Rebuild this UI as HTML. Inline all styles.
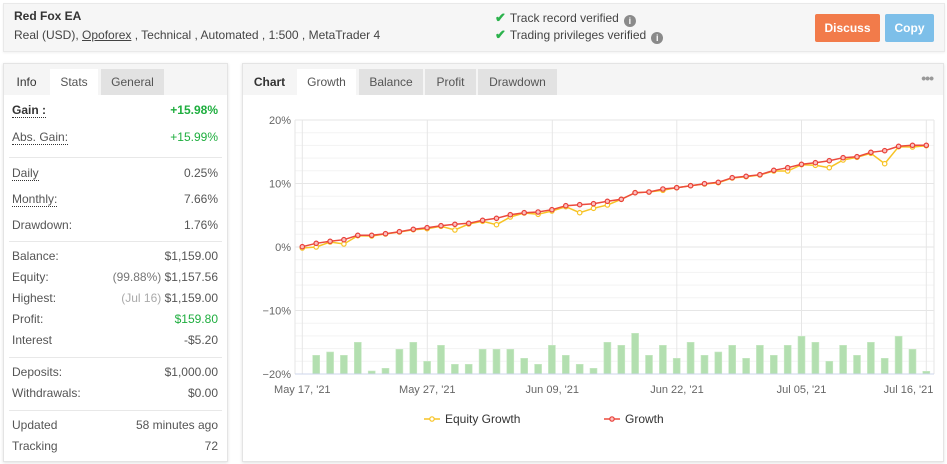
<!DOCTYPE html>
<html><head><meta charset="utf-8"><style>
*{margin:0;padding:0;box-sizing:border-box}
body{width:947px;height:464px;background:#fff;font-family:"Liberation Sans",Arial,sans-serif;font-size:12px;color:#444;position:relative;overflow:hidden}
.abs{position:absolute;white-space:nowrap}
.top{position:absolute;left:3px;top:3px;width:942px;height:49px;background:#f6f6f6;border:1px solid #e9e9e9;box-shadow:0 1px 2px rgba(0,0,0,.06)}
.panel{position:absolute;background:#fff;border:1px solid #e4e4e4;box-shadow:0 1px 3px rgba(0,0,0,.12)}
.hdr{position:absolute;left:0;top:0;right:0;height:31px;background:#f5f5f5}
.tab{position:absolute;top:5px;height:26px;line-height:26px;text-align:center;color:#555;font-size:12px}
.tw{background:#fff}
.tg{background:#e2e2e2}
.row{position:absolute;left:12px;width:206px;height:18px;line-height:18px;color:#555}
.row .v{position:absolute;right:0;top:0}
.dot{border-bottom:1px dotted #333;line-height:14px;display:inline-block}
.sep{position:absolute;left:9px;width:213px;height:1px;background:#e8e8e8}
.g{color:#1fae3f}
.btn{position:absolute;top:14px;height:28px;line-height:28px;color:#fff;font-weight:bold;text-align:center;font-size:12px;border-radius:2px}
.ic{display:inline-block;width:12px;height:12px;border-radius:50%;background:#8a8a8a;color:#fff;font-size:9px;line-height:12px;text-align:center;font-weight:bold;vertical-align:-2px;margin-left:5px}
.ck{color:#2bb24c;font-weight:bold;font-size:13px;margin-right:4px}
</style></head><body>
<div class="top"></div>
<div class="abs" style="left:14px;top:9px;font-weight:bold;color:#333;font-size:12px">Red Fox EA</div>
<div class="abs" style="left:14px;top:28px;color:#444;font-size:12px">Real (USD), <span style="text-decoration:underline">Opoforex</span> , Technical , Automated , 1:500 , MetaTrader 4</div>
<div class="abs" style="left:495px;top:10px;color:#444"><span class="ck">✔</span>Track record verified<span class="ic">i</span></div>
<div class="abs" style="left:495px;top:27px;color:#444"><span class="ck">✔</span>Trading privileges verified<span class="ic">i</span></div>
<div class="btn" style="left:815px;width:65px;background:#f27b4a">Discuss</div>
<div class="btn" style="left:885px;width:49px;background:#7dbfe9">Copy</div>

<!-- left panel -->
<div class="panel" style="left:3px;top:63px;width:225px;height:399px">
 <div class="hdr"></div>
 <div class="tab" style="left:0;width:45px;color:#333">Info</div>
 <div class="tab tw" style="left:46px;width:48px">Stats</div>
 <div class="tab tg" style="left:97px;width:63px">General</div>
</div>
<div class="row" style="top:101px"><span class="dot" style="font-weight:bold;color:#333">Gain :</span><span class="v g" style="font-weight:bold">+15.98%</span></div>
<div class="row" style="top:128px"><span class="dot">Abs. Gain:</span><span class="v g">+15.99%</span></div>
<div class="sep" style="top:157px"></div>
<div class="row" style="top:164px"><span class="dot">Daily</span><span class="v">0.25%</span></div>
<div class="row" style="top:190px"><span class="dot">Monthly:</span><span class="v">7.66%</span></div>
<div class="row" style="top:216px">Drawdown:<span class="v">1.76%</span></div>
<div class="sep" style="top:241px"></div>
<div class="row" style="top:247px">Balance:<span class="v">$1,159.00</span></div>
<div class="row" style="top:268px">Equity:<span class="v"><span style="color:#777">(99.88%)</span> $1,157.56</span></div>
<div class="row" style="top:289px">Highest:<span class="v"><span style="color:#aaa">(Jul 16)</span> $1,159.00</span></div>
<div class="row" style="top:310px">Profit:<span class="v g">$159.80</span></div>
<div class="row" style="top:331px">Interest<span class="v">-$5.20</span></div>
<div class="sep" style="top:357px"></div>
<div class="row" style="top:363px">Deposits:<span class="v">$1,000.00</span></div>
<div class="row" style="top:384px">Withdrawals:<span class="v">$0.00</span></div>
<div class="sep" style="top:410px"></div>
<div class="row" style="top:416px">Updated<span class="v">58 minutes ago</span></div>
<div class="row" style="top:437px">Tracking<span class="v">72</span></div>

<!-- right panel -->
<div class="panel" style="left:242px;top:63px;width:702px;height:399px">
 <div class="hdr"></div>
 <div class="tab" style="left:0;width:53px;color:#333;font-weight:bold">Chart</div>
 <div class="tab tw" style="left:54px;width:59px">Growth</div>
 <div class="tab tg" style="left:116px;width:64px">Balance</div>
 <div class="tab tg" style="left:182px;width:51px">Profit</div>
 <div class="tab tg" style="left:235px;width:79px">Drawdown</div>
 <div class="abs" style="right:10px;top:6px;color:#999;font-size:14px;font-weight:bold;letter-spacing:-1px">•••</div>
</div>

<svg class="abs" style="left:0;top:0" width="947" height="464" xmlns="http://www.w3.org/2000/svg">
<g stroke="#f3f3f3" stroke-width="1">
<line x1="295" x2="934" y1="132.7" y2="132.7"/><line x1="295" x2="934" y1="145.4" y2="145.4"/><line x1="295" x2="934" y1="158.1" y2="158.1"/><line x1="295" x2="934" y1="170.8" y2="170.8"/>
<line x1="295" x2="934" y1="196.2" y2="196.2"/><line x1="295" x2="934" y1="208.9" y2="208.9"/><line x1="295" x2="934" y1="221.6" y2="221.6"/><line x1="295" x2="934" y1="234.3" y2="234.3"/>
<line x1="295" x2="934" y1="259.7" y2="259.7"/><line x1="295" x2="934" y1="272.4" y2="272.4"/><line x1="295" x2="934" y1="285.1" y2="285.1"/><line x1="295" x2="934" y1="297.8" y2="297.8"/>
<line x1="295" x2="934" y1="323.2" y2="323.2"/><line x1="295" x2="934" y1="335.9" y2="335.9"/><line x1="295" x2="934" y1="348.6" y2="348.6"/><line x1="295" x2="934" y1="361.3" y2="361.3"/>
</g>
<g stroke="#e6e6e6" stroke-width="1">
<line x1="295" x2="934" y1="120" y2="120"/><line x1="295" x2="934" y1="183.5" y2="183.5"/><line x1="295" x2="934" y1="247" y2="247"/><line x1="295" x2="934" y1="310.5" y2="310.5"/>
<line x1="295" x2="295" y1="120" y2="374"/><line x1="934" x2="934" y1="120" y2="374"/>
<line x1="302.3" x2="302.3" y1="120" y2="374"/><line x1="427.3" x2="427.3" y1="120" y2="374"/><line x1="552.3" x2="552.3" y1="120" y2="374"/><line x1="676.8" x2="676.8" y1="120" y2="374"/><line x1="801.5" x2="801.5" y1="120" y2="374"/><line x1="926.3" x2="926.3" y1="120" y2="374"/>
</g>
<g fill="#b3dfb0" stroke="#c8e9c5" stroke-width="0.6">
<rect x="312.7" y="355.3" width="7" height="18.7"/><rect x="326.6" y="352.0" width="7" height="22"/><rect x="340.4" y="355.3" width="7" height="18.7"/><rect x="354.3" y="342.3" width="7" height="31.7"/><rect x="368.2" y="371.0" width="7" height="3"/>
<rect x="382.0" y="368.3" width="7" height="5.7"/><rect x="395.9" y="349.3" width="7" height="24.7"/><rect x="409.8" y="342.3" width="7" height="31.7"/><rect x="423.6" y="361.3" width="7" height="12.7"/><rect x="437.5" y="345.3" width="7" height="28.7"/>
<rect x="451.4" y="364.3" width="7" height="9.7"/><rect x="465.2" y="364.3" width="7" height="9.7"/><rect x="479.1" y="349.3" width="7" height="24.7"/><rect x="493.0" y="349.3" width="7" height="24.7"/><rect x="506.8" y="349.3" width="7" height="24.7"/>
<rect x="520.7" y="358.3" width="7" height="15.7"/><rect x="534.6" y="364.3" width="7" height="9.7"/><rect x="548.4" y="345.3" width="7" height="28.7"/><rect x="562.3" y="355.3" width="7" height="18.7"/><rect x="576.2" y="364.3" width="7" height="9.7"/>
<rect x="590.0" y="368.3" width="7" height="5.7"/><rect x="603.9" y="342.3" width="7" height="31.7"/><rect x="617.8" y="345.3" width="7" height="28.7"/><rect x="631.6" y="333.3" width="7" height="40.7"/><rect x="645.5" y="355.3" width="7" height="18.7"/>
<rect x="659.4" y="345.3" width="7" height="28.7"/><rect x="673.2" y="358.3" width="7" height="15.7"/><rect x="687.1" y="342.3" width="7" height="31.7"/><rect x="701.0" y="355.3" width="7" height="18.7"/><rect x="714.8" y="352.0" width="7" height="22"/>
<rect x="728.7" y="345.3" width="7" height="28.7"/><rect x="742.6" y="358.3" width="7" height="15.7"/><rect x="756.4" y="345.3" width="7" height="28.7"/><rect x="770.3" y="355.3" width="7" height="18.7"/><rect x="784.2" y="345.3" width="7" height="28.7"/>
<rect x="798.0" y="336.3" width="7" height="37.7"/><rect x="811.9" y="342.3" width="7" height="31.7"/><rect x="825.8" y="361.3" width="7" height="12.7"/><rect x="839.6" y="345.3" width="7" height="28.7"/><rect x="853.5" y="355.3" width="7" height="18.7"/>
<rect x="867.4" y="342.3" width="7" height="31.7"/><rect x="881.2" y="358.3" width="7" height="15.7"/><rect x="895.1" y="336.3" width="7" height="37.7"/><rect x="909.0" y="349.3" width="7" height="24.7"/><rect x="922.8" y="371.3" width="7" height="2.7"/>
</g>
<line x1="295" x2="934" y1="374" y2="374" stroke="#ccd6eb" stroke-width="1"/>
<g fill="none" stroke="#f7c325" stroke-width="1.5">
<polyline points="302.3,248.0 316.2,247.0 330.1,242.0 343.9,244.0 357.8,235.7 371.7,236.0 385.5,234.0 399.4,232.0 413.3,229.7 427.1,228.7 441.0,226.3 454.9,230.0 468.7,224.0 482.6,221.3 496.5,224.7 510.3,217.0 524.2,213.0 538.1,214.3 551.9,211.0 565.8,206.7 579.7,212.7 593.5,208.3 607.4,205.0 621.3,199.3 635.1,192.7 649.0,192.0 662.9,190.3 676.7,187.7 690.6,185.7 704.5,184.0 718.3,182.7 732.2,178.0 746.1,176.7 759.9,175.0 773.8,171.0 787.7,171.0 801.5,164.7 815.4,165.3 829.3,167.7 843.1,160.0 857.0,157.3 870.9,153.3 884.7,163.7 898.6,146.7 912.5,147.0 926.3,145.7"/>
</g>
<g fill="#fff" stroke="#f7c325" stroke-width="1.2">
<circle cx="302.3" cy="248.0" r="2.2"/><circle cx="316.2" cy="247.0" r="2.2"/><circle cx="330.1" cy="242.0" r="2.2"/><circle cx="343.9" cy="244.0" r="2.2"/><circle cx="357.8" cy="235.7" r="2.2"/><circle cx="371.7" cy="236.0" r="2.2"/><circle cx="385.5" cy="234.0" r="2.2"/><circle cx="399.4" cy="232.0" r="2.2"/><circle cx="413.3" cy="229.7" r="2.2"/><circle cx="427.1" cy="228.7" r="2.2"/><circle cx="441.0" cy="226.3" r="2.2"/><circle cx="454.9" cy="230.0" r="2.2"/><circle cx="468.7" cy="224.0" r="2.2"/><circle cx="482.6" cy="221.3" r="2.2"/><circle cx="496.5" cy="224.7" r="2.2"/><circle cx="510.3" cy="217.0" r="2.2"/><circle cx="524.2" cy="213.0" r="2.2"/><circle cx="538.1" cy="214.3" r="2.2"/><circle cx="551.9" cy="211.0" r="2.2"/><circle cx="565.8" cy="206.7" r="2.2"/><circle cx="579.7" cy="212.7" r="2.2"/><circle cx="593.5" cy="208.3" r="2.2"/><circle cx="607.4" cy="205.0" r="2.2"/><circle cx="621.3" cy="199.3" r="2.2"/><circle cx="635.1" cy="192.7" r="2.2"/><circle cx="649.0" cy="192.0" r="2.2"/><circle cx="662.9" cy="190.3" r="2.2"/><circle cx="676.7" cy="187.7" r="2.2"/><circle cx="690.6" cy="185.7" r="2.2"/><circle cx="704.5" cy="184.0" r="2.2"/><circle cx="718.3" cy="182.7" r="2.2"/><circle cx="732.2" cy="178.0" r="2.2"/><circle cx="746.1" cy="176.7" r="2.2"/><circle cx="759.9" cy="175.0" r="2.2"/><circle cx="773.8" cy="171.0" r="2.2"/><circle cx="787.7" cy="171.0" r="2.2"/><circle cx="801.5" cy="164.7" r="2.2"/><circle cx="815.4" cy="165.3" r="2.2"/><circle cx="829.3" cy="167.7" r="2.2"/><circle cx="843.1" cy="160.0" r="2.2"/><circle cx="857.0" cy="157.3" r="2.2"/><circle cx="870.9" cy="153.3" r="2.2"/><circle cx="884.7" cy="163.7" r="2.2"/><circle cx="898.6" cy="146.7" r="2.2"/><circle cx="912.5" cy="147.0" r="2.2"/><circle cx="926.3" cy="145.7" r="2.2"/>
</g>
<g fill="none" stroke="#ec4a3c" stroke-width="1.5">
<polyline points="302.3,246.7 316.2,243.3 330.1,241.3 343.9,239.7 357.8,235.3 371.7,235.3 385.5,233.7 399.4,231.7 413.3,229.3 427.1,227.7 441.0,225.7 454.9,224.3 468.7,223.3 482.6,220.3 496.5,218.3 510.3,214.7 524.2,212.7 538.1,212.0 551.9,209.7 565.8,205.7 579.7,204.7 593.5,203.7 607.4,201.3 621.3,199.3 635.1,192.7 649.0,192.0 662.9,189.0 676.7,187.7 690.6,185.7 704.5,183.7 718.3,182.3 732.2,177.7 746.1,176.3 759.9,174.7 773.8,170.3 787.7,167.7 801.5,164.3 815.4,162.7 829.3,160.7 843.1,157.7 857.0,156.7 870.9,152.3 884.7,150.7 898.6,146.3 912.5,145.3 926.3,145.3"/>
</g>
<g fill="#fbc2c0" stroke="#e8403a" stroke-width="1.2">
<circle cx="302.3" cy="246.7" r="2.2"/><circle cx="316.2" cy="243.3" r="2.2"/><circle cx="330.1" cy="241.3" r="2.2"/><circle cx="343.9" cy="239.7" r="2.2"/><circle cx="357.8" cy="235.3" r="2.2"/><circle cx="371.7" cy="235.3" r="2.2"/><circle cx="385.5" cy="233.7" r="2.2"/><circle cx="399.4" cy="231.7" r="2.2"/><circle cx="413.3" cy="229.3" r="2.2"/><circle cx="427.1" cy="227.7" r="2.2"/><circle cx="441.0" cy="225.7" r="2.2"/><circle cx="454.9" cy="224.3" r="2.2"/><circle cx="468.7" cy="223.3" r="2.2"/><circle cx="482.6" cy="220.3" r="2.2"/><circle cx="496.5" cy="218.3" r="2.2"/><circle cx="510.3" cy="214.7" r="2.2"/><circle cx="524.2" cy="212.7" r="2.2"/><circle cx="538.1" cy="212.0" r="2.2"/><circle cx="551.9" cy="209.7" r="2.2"/><circle cx="565.8" cy="205.7" r="2.2"/><circle cx="579.7" cy="204.7" r="2.2"/><circle cx="593.5" cy="203.7" r="2.2"/><circle cx="607.4" cy="201.3" r="2.2"/><circle cx="621.3" cy="199.3" r="2.2"/><circle cx="635.1" cy="192.7" r="2.2"/><circle cx="649.0" cy="192.0" r="2.2"/><circle cx="662.9" cy="189.0" r="2.2"/><circle cx="676.7" cy="187.7" r="2.2"/><circle cx="690.6" cy="185.7" r="2.2"/><circle cx="704.5" cy="183.7" r="2.2"/><circle cx="718.3" cy="182.3" r="2.2"/><circle cx="732.2" cy="177.7" r="2.2"/><circle cx="746.1" cy="176.3" r="2.2"/><circle cx="759.9" cy="174.7" r="2.2"/><circle cx="773.8" cy="170.3" r="2.2"/><circle cx="787.7" cy="167.7" r="2.2"/><circle cx="801.5" cy="164.3" r="2.2"/><circle cx="815.4" cy="162.7" r="2.2"/><circle cx="829.3" cy="160.7" r="2.2"/><circle cx="843.1" cy="157.7" r="2.2"/><circle cx="857.0" cy="156.7" r="2.2"/><circle cx="870.9" cy="152.3" r="2.2"/><circle cx="884.7" cy="150.7" r="2.2"/><circle cx="898.6" cy="146.3" r="2.2"/><circle cx="912.5" cy="145.3" r="2.2"/><circle cx="926.3" cy="145.3" r="2.2"/>
</g>
<g font-family="Liberation Sans, Arial, sans-serif" font-size="11" fill="#666" text-anchor="end">
<text x="291" y="124">20%</text><text x="291" y="187.5">10%</text><text x="291" y="251">0%</text><text x="291" y="314.5">−10%</text><text x="291" y="378">−20%</text>
</g>
<g font-family="Liberation Sans, Arial, sans-serif" font-size="11" fill="#666" text-anchor="middle">
<text x="302.3" y="393">May 17, '21</text><text x="427.3" y="393">May 27, '21</text><text x="552.3" y="393">Jun 09, '21</text><text x="677" y="393">Jun 22, '21</text><text x="801.5" y="393">Jul 05, '21</text><text x="908.5" y="393">Jul 16, '21</text>
</g>
<line x1="424" x2="440" y1="419" y2="419" stroke="#f7c325" stroke-width="1.5"/><circle cx="432" cy="419" r="2.2" fill="#fff" stroke="#f7c325" stroke-width="1.2"/>
<text x="445" y="423" font-family="Liberation Sans, Arial, sans-serif" font-size="12" fill="#333">Equity Growth</text>
<line x1="604" x2="620" y1="419" y2="419" stroke="#ec4a3c" stroke-width="1.5"/><circle cx="612" cy="419" r="2.2" fill="#fbc2c0" stroke="#e8403a" stroke-width="1.2"/>
<text x="625" y="423" font-family="Liberation Sans, Arial, sans-serif" font-size="12" fill="#333">Growth</text>
</svg>
</body></html>
